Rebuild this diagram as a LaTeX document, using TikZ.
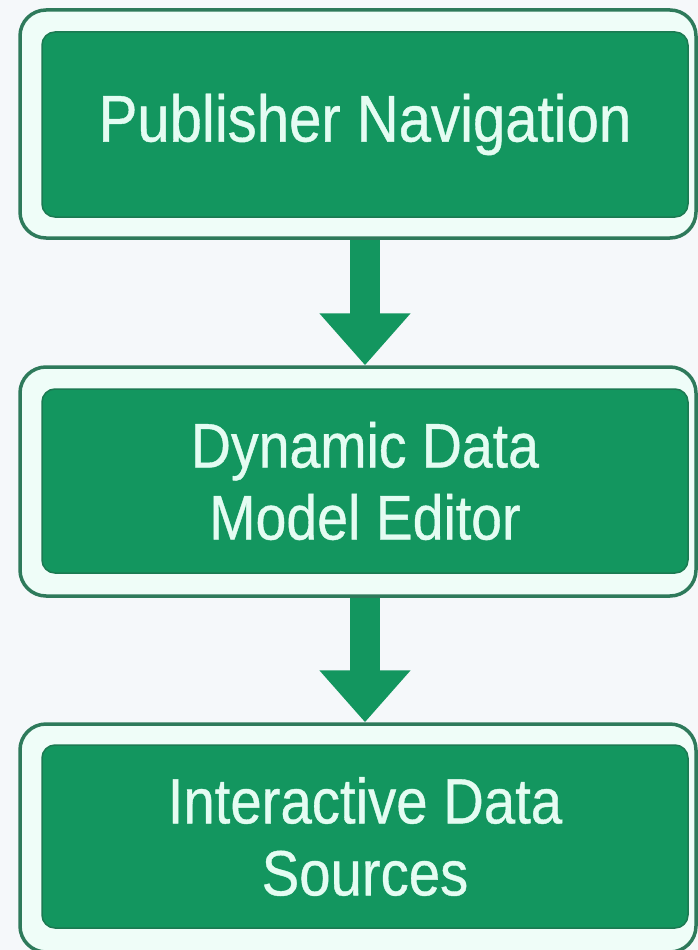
\documentclass[tikz,border=0pt]{standalone}
\usepackage{fontspec}
\usepackage{tikz}
\usetikzlibrary{arrows.meta, positioning}
\newfontfamily\boxfont[FakeStretch=0.88, FakeBold=0.6]{Liberation Sans}
\definecolor{pagebg}{HTML}{F5F8FA}
\definecolor{framegreen}{HTML}{2E7A5B}
\definecolor{fillgreen}{HTML}{13965F}
\definecolor{edgegreen}{HTML}{1B7A52}
\definecolor{gapmint}{HTML}{EFFDF8}
\definecolor{textmint}{HTML}{E4FCF2}

\begin{document}
\begin{tikzpicture}[x=1pt, y=-1pt,
    outerbox/.style={draw=framegreen, fill=gapmint, line width=3.5pt, rounded corners=26pt, minimum width=676pt, inner sep=0pt},
    innerbox/.style={draw=edgegreen, fill=fillgreen, line width=1.5pt, rounded corners=13pt, minimum width=646pt, inner sep=0pt, text=textmint, align=center},
    flowarrow/.style={draw=fillgreen, line width=30pt, -{Triangle[width=88pt, length=52pt]}}]
    \useasboundingbox (0,0) rectangle (698,950);
    \fill[pagebg] (0,0) rectangle (698,950);

    % publisher
    \node[outerbox, minimum height=228pt] (pubout) at (358,124) {};
    \node[innerbox, minimum height=185pt, font=\boxfont\fontsize{66}{72}\selectfont] (pubin) at (365,124.5) {Publisher Navigation};

    % editor
    \node[outerbox, minimum height=229pt] (dynout) at (358,481.5) {};
    \node[innerbox, minimum height=184pt, font=\boxfont\fontsize{63}{72}\selectfont] (dynin) at (365,481) {Dynamic Data\\Model Editor};

    % sources
    \node[outerbox, minimum height=228pt] (srcout) at (358,838) {};
    \node[innerbox, minimum height=183pt, font=\boxfont\fontsize{64}{72}\selectfont] (srcin) at (365,836.5) {Interactive Data\\Sources};

    \draw[flowarrow] (pubin.south |- pubout.south) -- (dynin.north |- dynout.north);
    \draw[flowarrow] (dynin.south |- dynout.south) -- (srcin.north |- srcout.north);
  \end{tikzpicture}
\end{document}
